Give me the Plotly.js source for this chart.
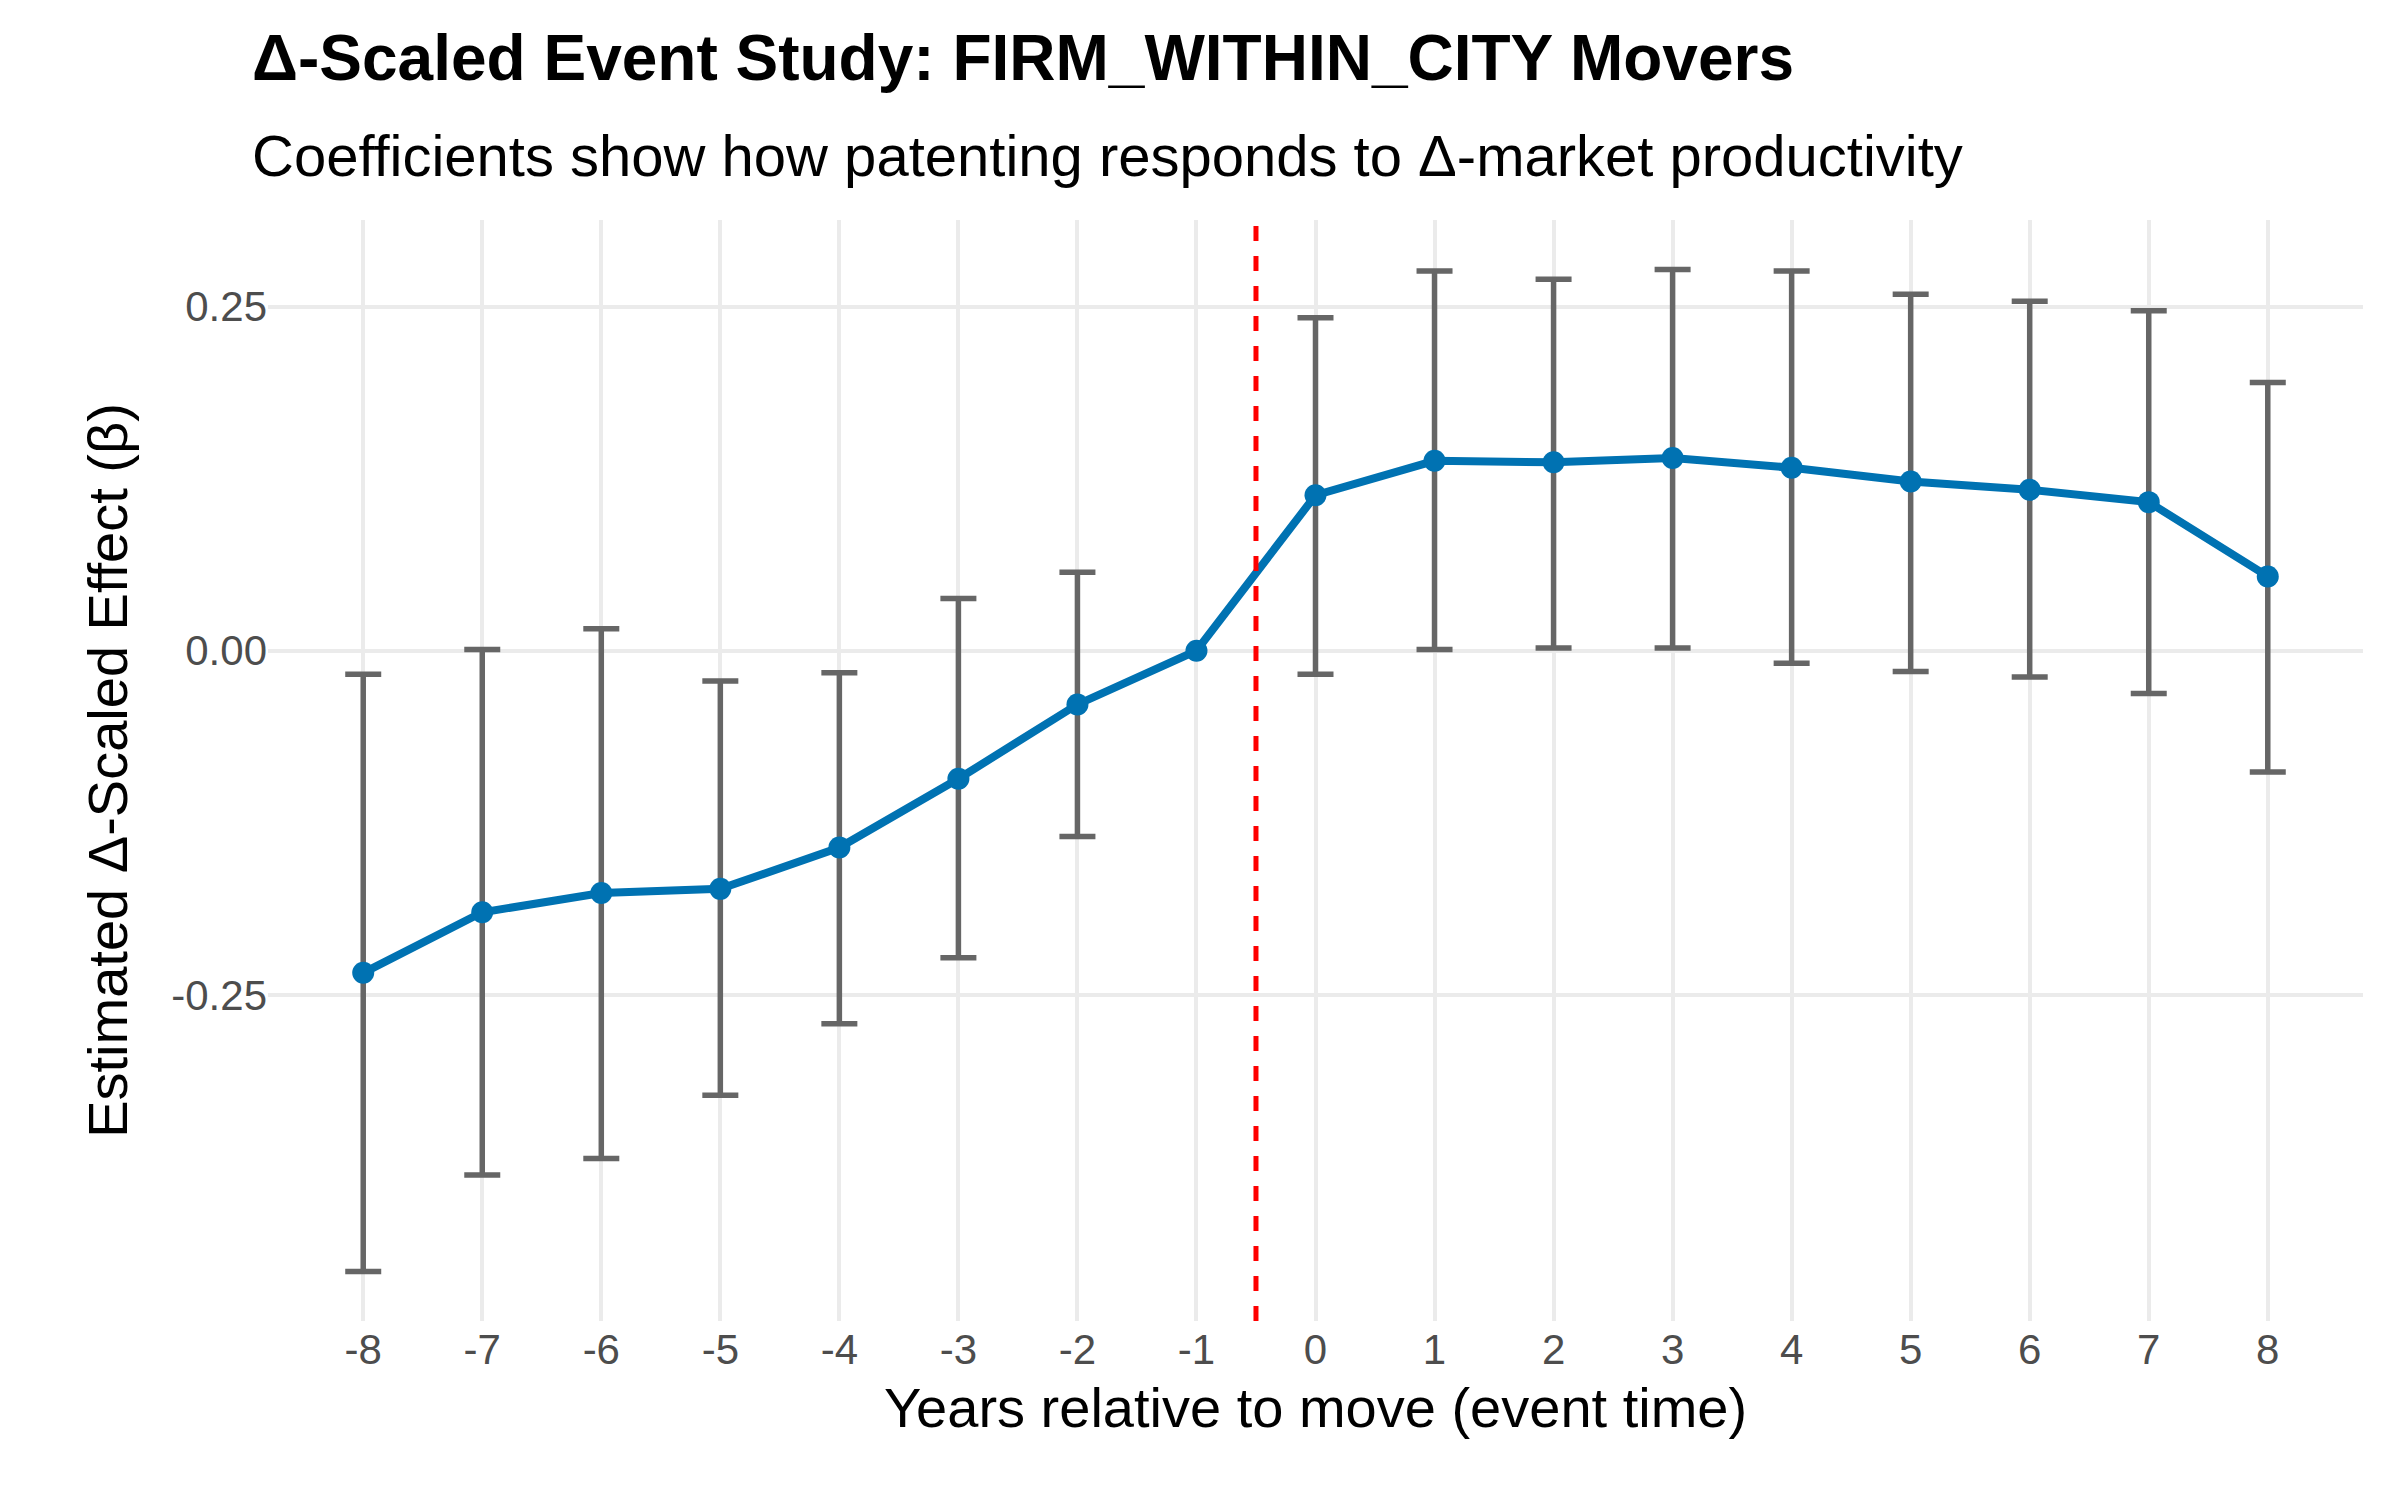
<!DOCTYPE html>
<html><head><meta charset="utf-8">
<script src="https://cdn.plot.ly/plotly-3.0.1.min.js"></script>
<style>body{margin:0}</style></head><body>
<div id="chart" style="width:2400px;height:1500px"></div>
<script>
const eventTime = [-8,-7,-6,-5,-4,-3,-2,-1,0,1,2,3,4,5,6,7,8];
const beta      = [-0.234,-0.190,-0.176,-0.173,-0.143,-0.093,-0.039,0,0.113,0.138,0.137,0.140,0.133,0.123,0.117,0.108,0.054];
const ciLow     = [-0.451,-0.381,-0.369,-0.323,-0.271,-0.223,-0.135,null,-0.017,0.001,0.002,0.002,-0.009,-0.015,-0.019,-0.031,-0.088];
const ciHigh    = [-0.017,0.001,0.016,-0.022,-0.016,0.038,0.057,null,0.242,0.276,0.270,0.277,0.276,0.259,0.254,0.247,0.195];

const ex=[],ey=[],ep=[],em=[];
eventTime.forEach((t,i)=>{ if(ciLow[i]!==null){ex.push(t);ey.push(beta[i]);ep.push(ciHigh[i]-beta[i]);em.push(beta[i]-ciLow[i]);} });

const font = "Liberation Sans, Arial, sans-serif";
Plotly.newPlot('chart',[
 {x:ex,y:ey,type:'scatter',mode:'markers',marker:{size:1,color:'rgba(0,0,0,0)'},
  error_y:{type:'data',symmetric:false,array:ep,arrayminus:em,color:'#666666',thickness:5.5,width:18},
  hoverinfo:'skip',showlegend:false},
 {x:eventTime,y:beta,type:'scatter',mode:'lines+markers',line:{color:'#0072B2',width:8},
  marker:{color:'#0072B2',size:22},showlegend:false}
],{
 width:2400,height:1500,paper_bgcolor:'white',plot_bgcolor:'white',
 margin:{l:268,r:37,t:220,b:179},
 font:{family:font},
 annotations:[
  {text:'<b>Δ-Scaled Event Study: FIRM_WITHIN_CITY Movers</b>',xref:'paper',yref:'paper',x:-0.0085,y:1.147,xanchor:'left',yanchor:'middle',showarrow:false,font:{size:64,color:'black'}},
  {text:'Coefficients show how patenting responds to Δ-market productivity',xref:'paper',yref:'paper',x:-0.0085,y:1.059,xanchor:'left',yanchor:'middle',showarrow:false,font:{size:58,color:'black'}}
 ],
 xaxis:{range:[-8.8,8.8],tickvals:eventTime,ticktext:eventTime.map(String),zeroline:false,
  showgrid:true,gridcolor:'#ebebeb',gridwidth:4,tickfont:{size:42,color:'#4d4d4d'},ticks:'',
  title:{text:'Years relative to move (event time)',font:{size:56,color:'black'},standoff:15}},
 yaxis:{range:[-0.487,0.313],tickvals:[-0.25,0,0.25],ticktext:['-0.25','0.00','0.25'],zeroline:false,
  showgrid:true,gridcolor:'#ebebeb',gridwidth:4,tickfont:{size:42,color:'#4d4d4d'},ticks:'',
  title:{text:'Estimated Δ-Scaled Effect (β)',font:{size:56,color:'black'},standoff:25}},
 shapes:[{type:'line',xref:'x',yref:'paper',x0:-0.5,x1:-0.5,y0:0,y1:1,line:{color:'red',width:5,dash:'dash'}}]
},{displayModeBar:false});
</script></body></html>
